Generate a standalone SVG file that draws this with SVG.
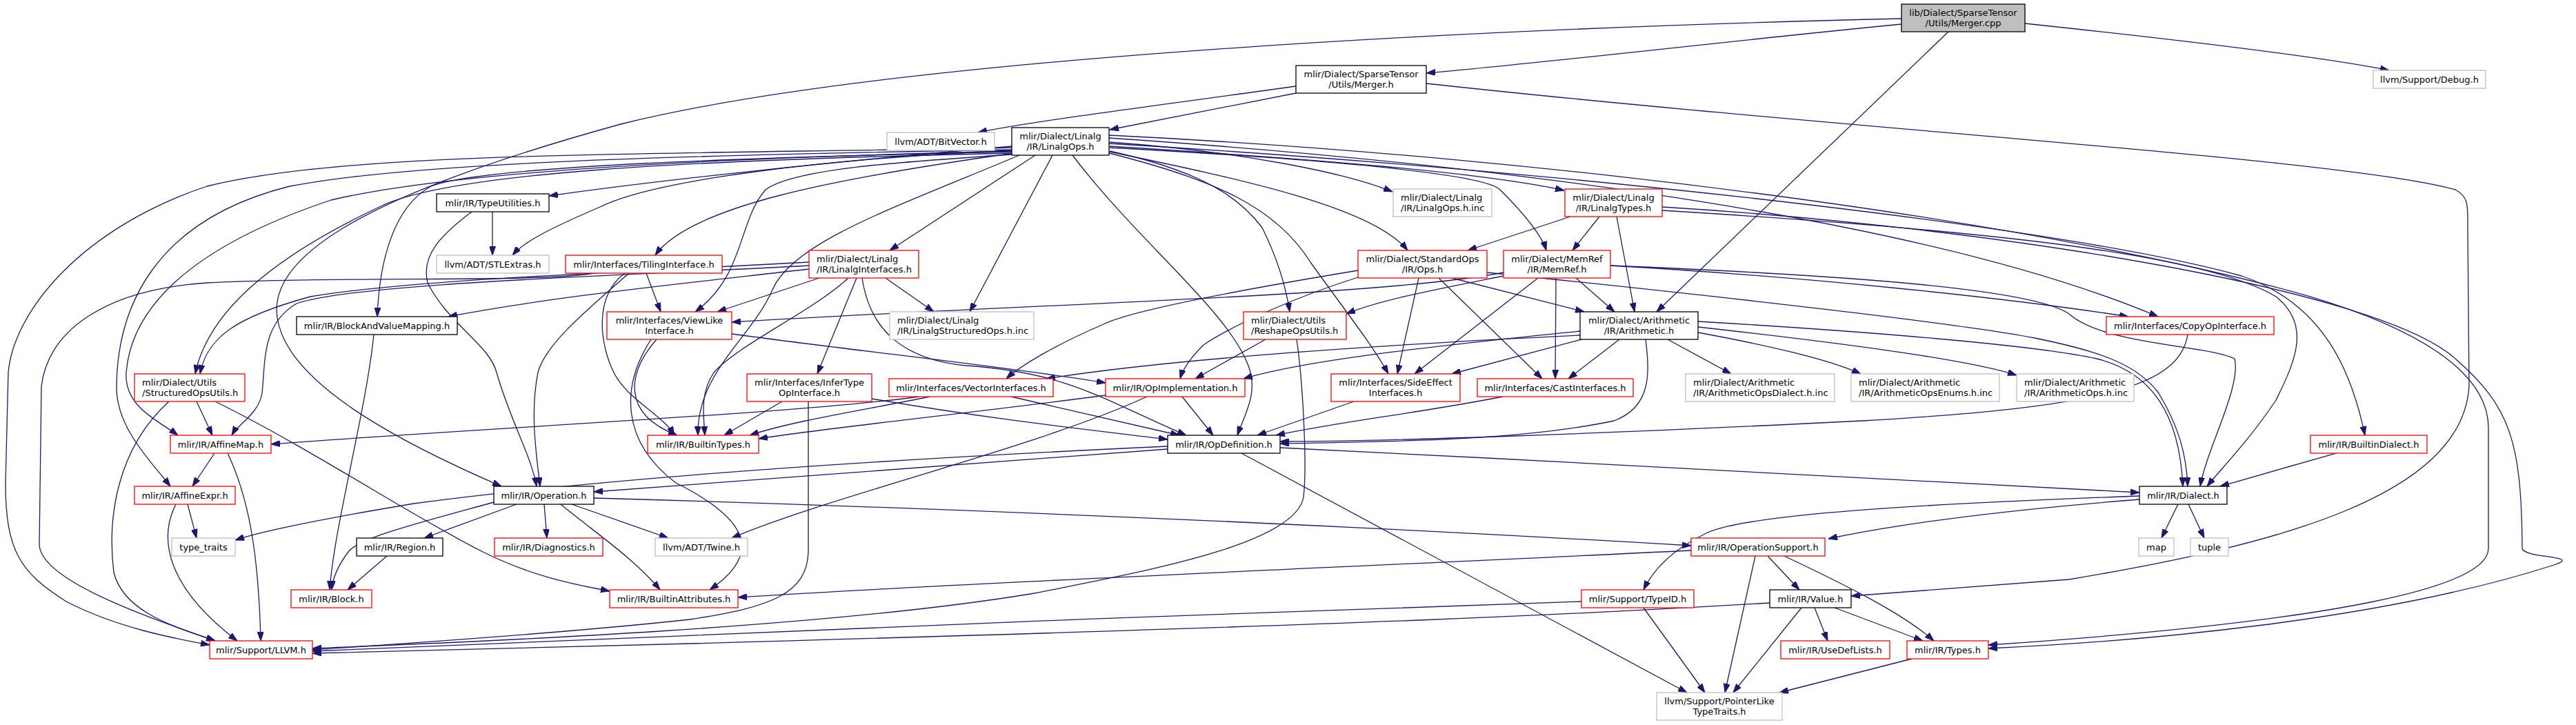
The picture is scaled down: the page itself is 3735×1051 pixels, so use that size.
<svg xmlns="http://www.w3.org/2000/svg" width="3735" height="1051" viewBox="0 0 3735 1051">
<style>
.n rect{stroke-width:1.3}
.b rect{fill:#fff;stroke:#000}
.r rect{fill:#fff;stroke:#ff0000}
.g rect{fill:#fff;stroke:#bfbfbf}
.s rect{fill:#bfbfbf;stroke:#000}
text{font-family:"DejaVu Sans","Liberation Sans",sans-serif;font-size:13px;fill:#000}
.c{text-anchor:middle}
#edges path{fill:none;stroke:#191970;stroke-width:1.3;marker-end:url(#a)}
</style>
<defs>
<marker id="a" markerWidth="13" markerHeight="9" refX="13" refY="4.5" orient="auto" markerUnits="userSpaceOnUse"><path d="M0,0 L13,4.5 L0,9 z" fill="#191970" stroke="#191970" stroke-width="1"/></marker>
</defs>
<rect width="3735" height="1051" fill="#fff"/>
<g id="edges">
<path d="M2757,35 C2500,60 2250,90 2068,106"/>
<path d="M2936,34 C3180,60 3380,85 3464,102"/>
<path d="M2825,46 L2402,452"/>
<path d="M2757,27 C2200,40 1300,80 900,180 C500,290 390,380 402,460 C415,560 600,650 727,705"/>
<path d="M1879,135 L1609,188"/>
<path d="M1879,125 C1700,150 1500,175 1418,192"/>
<path d="M2068,121 C2700,190 3400,230 3560,275 C3580,285 3578,300 3578,330 L3580,560 C3570,720 3300,790 3000,840 L2684,864"/>
<path d="M1609,206 C1800,220 1950,250 2019,278"/>
<path d="M1609,212 C1900,230 2150,250 2268,276"/>
<path d="M1609,220 C1800,260 1990,300 2041,363"/>
<path d="M1609,214 C1900,230 2150,250 2175,275 C2210,310 2235,340 2242,363"/>
<path d="M1501,225 L1290,363"/>
<path d="M1526,225 L1406,452"/>
<path d="M1609,219 C1750,250 1800,290 1830,330 C1855,380 1865,420 1870,452"/>
<path d="M1608,222 C1760,260 1850,300 1900,380 C1950,450 1990,500 2013,542"/>
<path d="M1555,225 C1650,350 1780,450 1810,530 C1825,570 1805,600 1794,631"/>
<path d="M1608,200 C2200,240 2800,320 3129,459"/>
<path d="M1608,208 C2300,250 3000,330 3250,400 C3370,440 3410,540 3429,631"/>
<path d="M1608,196 C2300,230 3000,330 3350,430 C3550,490 3608,560 3608,620 L3608,795 C3608,850 3400,900 2883,935"/>
<path d="M2410,300 C2900,330 3450,420 3560,520 C3640,590 3656,640 3657,795 C3660,810 3750,805 3700,820 C3450,900 3100,930 2883,940"/>
<path d="M1467,212 C1200,235 950,262 796,284"/>
<path d="M1467,218 C1200,230 950,260 870,300 C800,330 760,350 743,370"/>
<path d="M1470,222 C1200,260 1000,300 950,370"/>
<path d="M1467,220 C1100,228 700,240 625,270 C570,300 550,380 547,459"/>
<path d="M1467,222 C1000,232 650,250 550,300 C380,380 300,460 283,542"/>
<path d="M1467,217 C1000,225 600,235 420,270 C220,320 170,450 169,560 C168,620 220,670 247,705"/>
<path d="M1467,219 C1000,230 650,250 480,290 C270,360 190,450 183,540 C180,590 230,610 258,631"/>
<path d="M1467,214 C900,225 500,220 300,270 C120,330 20,450 12,540 L8,700 C8,800 30,830 96,872 C170,910 250,925 304,935"/>
<path d="M1467,224 C1300,235 1150,245 1110,275 C1070,320 1080,400 1008,452"/>
<path d="M1478,225 C1300,300 1150,350 1120,420 C1090,490 1010,540 1012,631"/>
<path d="M714,307 L714,370"/>
<path d="M684,307 C640,340 610,370 620,410 C650,470 710,500 720,540 C740,610 770,660 778,705"/>
<path d="M937,396 L958,452"/>
<path d="M912,396 C850,450 790,500 780,540 C768,600 778,660 783,705"/>
<path d="M906,396 C860,430 870,500 890,540 C910,580 960,600 978,631"/>
<path d="M861,396 C780,410 500,400 300,410 C150,420 70,480 60,560 L57,790 C60,840 200,890 312,929"/>
<path d="M1173,390 C1000,410 800,430 650,459"/>
<path d="M1173,380 C900,395 600,405 450,430 C340,460 300,490 290,542"/>
<path d="M1173,385 C900,400 520,410 430,440 C380,470 385,520 380,570 C375,600 345,615 336,631"/>
<path d="M1188,403 L1040,452"/>
<path d="M1230,403 C1180,450 1070,500 1035,540 C1015,570 1020,600 1022,631"/>
<path d="M1242,403 L1185,542"/>
<path d="M1250,403 C1260,470 1300,520 1400,530 C1550,540 1600,580 1720,631"/>
<path d="M1284,403 L1354,452"/>
<path d="M2277,314 L2128,363"/>
<path d="M2319,314 L2280,363"/>
<path d="M2344,314 L2370,452"/>
<path d="M2410,305 C2900,335 3200,370 3300,430 C3350,470 3330,520 3300,580 C3260,640 3220,680 3200,705"/>
<path d="M2335,385 C2700,400 2950,420 3000,455 C3050,500 3200,500 3240,520 C3250,560 3200,650 3190,705"/>
<path d="M2462,466 C2700,480 2950,500 3040,520 C3120,540 3160,600 3165,705"/>
<path d="M2156,395 C2500,430 2850,470 2950,490 C3050,510 3100,530 3130,570 C3160,620 3170,660 3172,705"/>
<path d="M3387,657 L3219,705"/>
<path d="M2105,403 L2297,452"/>
<path d="M2057,403 L2026,542"/>
<path d="M2086,403 L2236,549"/>
<path d="M1969,392 C1800,420 1640,450 1600,470 C1530,500 1480,530 1459,549"/>
<path d="M1969,402 C1880,430 1790,470 1745,500 C1725,520 1715,535 1711,549"/>
<path d="M2285,403 L2341,452"/>
<path d="M2230,403 L2051,542"/>
<path d="M2256,403 L2255,549"/>
<path d="M2180,395 C2000,430 1500,440 1061,467"/>
<path d="M2180,400 C2080,420 2000,435 1952,455"/>
<path d="M2335,385 C2600,400 2900,430 3086,459"/>
<path d="M1835,492 L1733,549"/>
<path d="M2418,492 L2510,542"/>
<path d="M2462,482 C2560,500 2650,520 2698,542"/>
<path d="M2462,474 C2650,495 2850,520 2924,544"/>
<path d="M2293,492 L2105,542"/>
<path d="M2348,492 L2274,549"/>
<path d="M2386,492 C2392,540 2395,590 2340,610 C2200,640 2000,640 1856,643"/>
<path d="M2291,480 C2100,500 1900,520 1803,549"/>
<path d="M2291,486 C2000,500 1700,520 1517,549"/>
<path d="M1880,492 C1890,560 1895,680 1890,720 C1880,790 1650,830 1500,860 C1200,910 700,930 453,940"/>
<path d="M1134,582 L1050,631"/>
<path d="M1264,578 C1450,610 1600,625 1693,637"/>
<path d="M1172,582 L1172,800 C1170,860 1120,880 1000,898 C800,920 550,935 453,942"/>
<path d="M1333,575 C1150,600 700,620 393,644"/>
<path d="M1348,575 C1250,595 1150,610 1087,631"/>
<path d="M1466,575 L1710,631"/>
<path d="M1603,573 C1400,600 1200,620 1100,636"/>
<path d="M1714,575 L1759,631"/>
<path d="M1663,575 C1500,650 1200,720 1061,780"/>
<path d="M1061,484 C1250,510 1450,530 1603,555"/>
<path d="M952,492 C910,540 900,600 982,631"/>
<path d="M944,492 C900,560 900,640 980,700 C1080,750 1110,800 1029,855"/>
<path d="M285,582 L308,631"/>
<path d="M245,582 C170,650 155,750 165,830 C180,890 260,910 312,929"/>
<path d="M312,582 C450,650 600,750 700,800 C780,840 850,850 884,857"/>
<path d="M311,657 L279,705"/>
<path d="M330,657 C360,720 375,800 378,929"/>
<path d="M272,731 L285,780"/>
<path d="M255,731 C230,780 240,850 344,929"/>
<path d="M1693,647 C1300,665 900,690 600,730 C450,755 380,770 341,783"/>
<path d="M1693,651 L861,713"/>
<path d="M1856,649 C2300,670 2800,700 3102,714"/>
<path d="M1800,657 L2446,1004"/>
<path d="M749,731 L615,780"/>
<path d="M789,731 L793,780"/>
<path d="M829,731 L969,780"/>
<path d="M813,731 C860,770 920,810 957,855"/>
<path d="M716,728 C600,760 520,780 505,800 C490,820 482,840 481,855"/>
<path d="M861,722 C1500,740 2100,770 2452,791"/>
<path d="M542,485 C530,600 485,760 478,855"/>
<path d="M561,806 L504,855"/>
<path d="M3158,731 L3134,780"/>
<path d="M3173,731 L3196,780"/>
<path d="M3102,724 C2900,740 2750,760 2651,781"/>
<path d="M3102,719 C2800,730 2520,745 2470,775 C2420,800 2395,830 2383,855"/>
<path d="M2452,798 C2000,820 1400,845 1070,866"/>
<path d="M2563,806 L2609,855"/>
<path d="M2587,806 C2680,850 2760,890 2804,929"/>
<path d="M2545,806 L2501,1004"/>
<path d="M2383,881 L2472,1004"/>
<path d="M2293,872 C1700,890 900,925 453,944"/>
<path d="M2631,881 L2650,929"/>
<path d="M2660,881 L2788,929"/>
<path d="M2612,881 L2513,1004"/>
<path d="M2566,874 C2300,890 2000,905 1000,933 L453,947"/>
<path d="M2772,955 L2580,1004"/>
<path d="M3172,485 C3160,560 3050,590 2700,610 C2300,630 2000,640 1856,640"/>
<path d="M2179,575 C2050,600 1950,610 1850,631"/>
<path d="M1963,582 L1823,631"/>
</g>
<g id="n0" class="n s"><rect x="2757" y="6" width="179" height="40"/><text class="c" x="2846.5" y="23">lib/Dialect/SparseTensor</text><text class="c" x="2846.5" y="38">/Utils/Merger.cpp</text></g>
<g id="n1" class="n b"><rect x="1879" y="95" width="189" height="40"/><text class="c" x="1973.5" y="112">mlir/Dialect/SparseTensor</text><text class="c" x="1973.5" y="127">/Utils/Merger.h</text></g>
<g id="n49" class="n g"><rect x="3441" y="102" width="163" height="26"/><text class="c" x="3522.5" y="119.5">llvm/Support/Debug.h</text></g>
<g id="n3" class="n g"><rect x="1286" y="192" width="156" height="26"/><text class="c" x="1364" y="209.5">llvm/ADT/BitVector.h</text></g>
<g id="n2" class="n b"><rect x="1467" y="185" width="141" height="40"/><text class="c" x="1537.5" y="202">mlir/Dialect/Linalg</text><text class="c" x="1537.5" y="217">/IR/LinalgOps.h</text></g>
<g id="n7" class="n b"><rect x="633" y="281" width="163" height="26"/><text class="c" x="714.5" y="298.5">mlir/IR/TypeUtilities.h</text></g>
<g id="n46" class="n g"><rect x="2020" y="274" width="143" height="40"/><text x="2031" y="291">mlir/Dialect/Linalg</text><text x="2031" y="306">/IR/LinalgOps.h.inc</text></g>
<g id="n47" class="n r"><rect x="2269" y="274" width="141" height="40"/><text class="c" x="2339.5" y="291">mlir/Dialect/Linalg</text><text class="c" x="2339.5" y="306">/IR/LinalgTypes.h</text></g>
<g id="n8" class="n g"><rect x="633" y="370" width="163" height="26"/><text class="c" x="714.5" y="387.5">llvm/ADT/STLExtras.h</text></g>
<g id="n24" class="n r"><rect x="820" y="370" width="227" height="26"/><text class="c" x="933.5" y="387.5">mlir/Interfaces/TilingInterface.h</text></g>
<g id="n28" class="n r"><rect x="1173" y="363" width="159" height="40"/><text x="1184" y="380">mlir/Dialect/Linalg</text><text x="1184" y="395">/IR/LinalgInterfaces.h</text></g>
<g id="n34" class="n r"><rect x="1969" y="363" width="187" height="40"/><text class="c" x="2062.5" y="380">mlir/Dialect/StandardOps</text><text class="c" x="2062.5" y="395">/IR/Ops.h</text></g>
<g id="n35" class="n r"><rect x="2180" y="363" width="155" height="40"/><text class="c" x="2257.5" y="380">mlir/Dialect/MemRef</text><text class="c" x="2257.5" y="395">/IR/MemRef.h</text></g>
<g id="n4" class="n b"><rect x="430" y="459" width="233" height="26"/><text class="c" x="546.5" y="476.5">mlir/IR/BlockAndValueMapping.h</text></g>
<g id="n25" class="n r"><rect x="880" y="452" width="181" height="40"/><text class="c" x="970.5" y="469">mlir/Interfaces/ViewLike</text><text class="c" x="970.5" y="484">Interface.h</text></g>
<g id="n29" class="n g"><rect x="1290" y="452" width="209" height="40"/><text x="1301" y="469">mlir/Dialect/Linalg</text><text x="1301" y="484">/IR/LinalgStructuredOps.h.inc</text></g>
<g id="n33" class="n r"><rect x="1803" y="452" width="149" height="40"/><text x="1814" y="469">mlir/Dialect/Utils</text><text x="1814" y="484">/ReshapeOpsUtils.h</text></g>
<g id="n36" class="n b"><rect x="2291" y="452" width="171" height="40"/><text class="c" x="2376.5" y="469">mlir/Dialect/Arithmetic</text><text class="c" x="2376.5" y="484">/IR/Arithmetic.h</text></g>
<g id="n48" class="n r"><rect x="3054" y="459" width="243" height="26"/><text class="c" x="3175.5" y="476.5">mlir/Interfaces/CopyOpInterface.h</text></g>
<g id="n23" class="n r"><rect x="195" y="542" width="160" height="40"/><text x="206" y="559">mlir/Dialect/Utils</text><text x="206" y="574">/StructuredOpsUtils.h</text></g>
<g id="n30" class="n r"><rect x="1083" y="542" width="181" height="40"/><text class="c" x="1173.5" y="559">mlir/Interfaces/InferType</text><text class="c" x="1173.5" y="574">OpInterface.h</text></g>
<g id="n31" class="n r"><rect x="1289" y="549" width="238" height="26"/><text class="c" x="1408" y="566.5">mlir/Interfaces/VectorInterfaces.h</text></g>
<g id="n32" class="n r"><rect x="1603" y="549" width="202" height="26"/><text class="c" x="1704" y="566.5">mlir/IR/OpImplementation.h</text></g>
<g id="n37" class="n r"><rect x="1930" y="542" width="187" height="40"/><text class="c" x="2023.5" y="559">mlir/Interfaces/SideEffect</text><text class="c" x="2023.5" y="574">Interfaces.h</text></g>
<g id="n38" class="n r"><rect x="2142" y="549" width="226" height="26"/><text class="c" x="2255" y="566.5">mlir/Interfaces/CastInterfaces.h</text></g>
<g id="n39" class="n g"><rect x="2444" y="542" width="216" height="40"/><text x="2455" y="559">mlir/Dialect/Arithmetic</text><text x="2455" y="574">/IR/ArithmeticOpsDialect.h.inc</text></g>
<g id="n40" class="n g"><rect x="2684" y="542" width="215" height="40"/><text x="2695" y="559">mlir/Dialect/Arithmetic</text><text x="2695" y="574">/IR/ArithmeticOpsEnums.h.inc</text></g>
<g id="n41" class="n g"><rect x="2924" y="542" width="170" height="40"/><text x="2935" y="559">mlir/Dialect/Arithmetic</text><text x="2935" y="574">/IR/ArithmeticOps.h.inc</text></g>
<g id="n21" class="n r"><rect x="247" y="631" width="146" height="26"/><text class="c" x="320" y="648.5">mlir/IR/AffineMap.h</text></g>
<g id="n26" class="n r"><rect x="939" y="631" width="161" height="26"/><text class="c" x="1019.5" y="648.5">mlir/IR/BuiltinTypes.h</text></g>
<g id="n27" class="n b"><rect x="1693" y="631" width="163" height="26"/><text class="c" x="1774.5" y="648.5">mlir/IR/OpDefinition.h</text></g>
<g id="n45" class="n r"><rect x="3350" y="631" width="169" height="26"/><text class="c" x="3434.5" y="648.5">mlir/IR/BuiltinDialect.h</text></g>
<g id="n22" class="n r"><rect x="195" y="705" width="146" height="26"/><text class="c" x="268" y="722.5">mlir/IR/AffineExpr.h</text></g>
<g id="n9" class="n b"><rect x="716" y="705" width="145" height="26"/><text class="c" x="788.5" y="722.5">mlir/IR/Operation.h</text></g>
<g id="n42" class="n b"><rect x="3102" y="705" width="127" height="26"/><text class="c" x="3165.5" y="722.5">mlir/IR/Dialect.h</text></g>
<g id="n20" class="n g"><rect x="249" y="780" width="92" height="26"/><text class="c" x="295" y="797.5">type_traits</text></g>
<g id="n10" class="n b"><rect x="517" y="780" width="125" height="26"/><text class="c" x="579.5" y="797.5">mlir/IR/Region.h</text></g>
<g id="n11" class="n r"><rect x="717" y="780" width="157" height="26"/><text class="c" x="795.5" y="797.5">mlir/IR/Diagnostics.h</text></g>
<g id="n12" class="n g"><rect x="950" y="780" width="134" height="26"/><text class="c" x="1017" y="797.5">llvm/ADT/Twine.h</text></g>
<g id="n13" class="n r"><rect x="2452" y="780" width="194" height="26"/><text class="c" x="2549" y="797.5">mlir/IR/OperationSupport.h</text></g>
<g id="n43" class="n g"><rect x="3101" y="780" width="51" height="26"/><text class="c" x="3126.5" y="797.5">map</text></g>
<g id="n44" class="n g"><rect x="3176" y="780" width="55" height="26"/><text class="c" x="3203.5" y="797.5">tuple</text></g>
<g id="n5" class="n r"><rect x="422" y="855" width="117" height="26"/><text class="c" x="480.5" y="872.5">mlir/IR/Block.h</text></g>
<g id="n14" class="n r"><rect x="884" y="855" width="186" height="26"/><text class="c" x="977" y="872.5">mlir/IR/BuiltinAttributes.h</text></g>
<g id="n15" class="n r"><rect x="2293" y="855" width="163" height="26"/><text class="c" x="2374.5" y="872.5">mlir/Support/TypeID.h</text></g>
<g id="n16" class="n b"><rect x="2566" y="855" width="118" height="26"/><text class="c" x="2625" y="872.5">mlir/IR/Value.h</text></g>
<g id="n6" class="n r"><rect x="304" y="929" width="149" height="26"/><text class="c" x="378.5" y="946.5">mlir/Support/LLVM.h</text></g>
<g id="n17" class="n r"><rect x="2582" y="929" width="158" height="26"/><text class="c" x="2661" y="946.5">mlir/IR/UseDefLists.h</text></g>
<g id="n18" class="n r"><rect x="2765" y="929" width="118" height="26"/><text class="c" x="2824" y="946.5">mlir/IR/Types.h</text></g>
<g id="n19" class="n g"><rect x="2402" y="1004" width="182" height="40"/><text class="c" x="2493" y="1021">llvm/Support/PointerLike</text><text class="c" x="2493" y="1036">TypeTraits.h</text></g>
</svg>
